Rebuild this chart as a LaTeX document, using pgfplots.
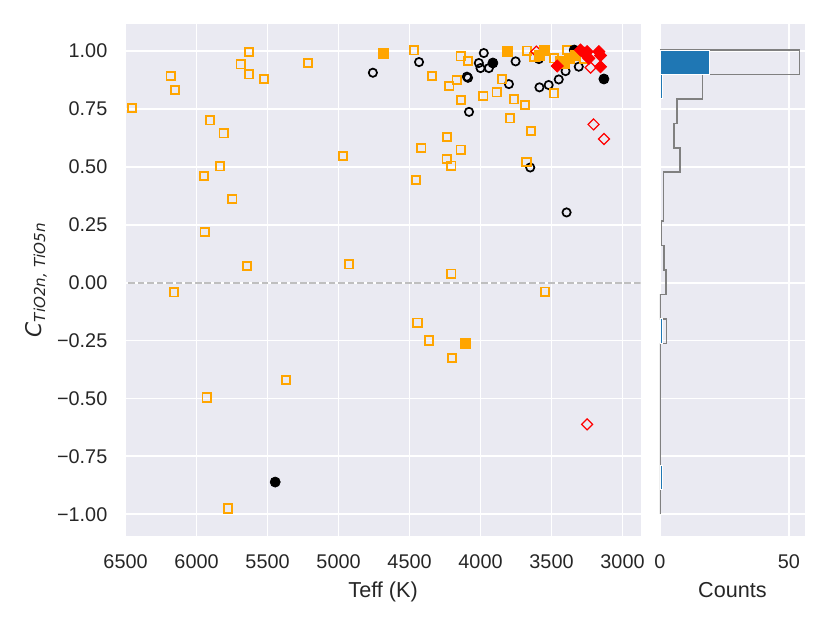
\documentclass[border=0pt]{standalone}
\usepackage{pgfplots}
\pgfplotsset{compat=1.18}
\usepackage{fontspec}
\setmainfont{Liberation Sans}
\newfontfamily\djv{DejaVu Sans}
\definecolor{bgc}{HTML}{EAEAF2}
\definecolor{txt}{HTML}{262626}
\definecolor{mpor}{HTML}{FFA500}
\definecolor{mpblue}{HTML}{1F77B4}
\definecolor{zline}{HTML}{BFBFBF}
\definecolor{hgray}{HTML}{808080}
\begin{document}
\begin{tikzpicture}
\useasboundingbox (0,0) rectangle (460.8pt,345.9pt);
\pgfplotsset{
  sbstyle/.style={
    scale only axis,
    axis background/.style={fill=bgc},
    axis line style={draw=none},
    grid=major,
    grid style={white, line width=1pt},
    major tick length=0pt,
    tick label style={font=\fontsize{11}{13}\selectfont, text=txt},
    label style={font=\fontsize{12}{14}\selectfont, text=txt},
    ymin=-1.094, ymax=1.115,
    ytick={-1,-0.75,-0.5,-0.25,0,0.25,0.5,0.75,1},
    xticklabel style={yshift=-6.9pt},
    yticklabel style={xshift=-6.6pt},
  }
}
\begin{axis}[sbstyle, at={(69.7pt,48.3pt)}, anchor=south west, width=286pt, height=284.1pt,
  x dir=reverse, xmin=2872, xmax=6500,
  xtick={3000,3500,4000,4500,5000,5500,6000,6500},
  xticklabels={3000,3500,4000,4500,5000,5500,6000,6500},
  yticklabels={−1.00,−0.75,−0.50,−0.25,0.00,0.25,0.50,0.75,1.00},
  xlabel={Teff (K)},
  ylabel={{\djv\itshape C}\raisebox{-2.2pt}{\fontsize{8.4}{10}\selectfont\djv\itshape TiO2n, TiO5n}},
  xlabel style={at={(axis description cs:0.5,-0.1193)}, anchor=base},
  ylabel style={at={(axis description cs:-0.164,0.5)}, anchor=base},
]
\addplot[zline, line width=1pt, dash pattern=on 3.7pt off 1.6pt, forget plot] coordinates {(2872,0) (6500,0)};
% black open circles
\addplot[only marks, mark=o, mark size=2.3pt, black, line width=0.95pt] coordinates {
(4758,0.906) (4433,0.952) (4096,0.889) (4088,0.884) (4081,0.737) (3977,0.991) (4012,0.948)
(4000,0.926) (3941,0.926) (3753,0.955) (3800,0.857) (3589,0.965) (3650,0.497) (3585,0.843)
(3520,0.853) (3449,0.877) (3401,0.913) (3308,0.932) (3394,0.303)
};
% orange open squares
\addplot[only marks, mark=square, mark size=2.3pt, mpor, line width=1pt] coordinates {
(6455,0.754) (6182,0.893) (6151,0.831) (5630,0.996) (5689,0.942) (5632,0.899) (5526,0.879)
(5906,0.700) (5809,0.644) (5835,0.502) (5946,0.460) (5748,0.361) (5943,0.218) (5646,0.072)
(6158,-0.042) (5929,-0.496) (5371,-0.421) (5779,-0.975) (5215,0.949) (4470,1.003) (4341,0.892)
(4140,0.977) (4090,0.956) (4168,0.874) (4220,0.848) (4136,0.788) (4237,0.628) (4416,0.581)
(4140,0.574) (4239,0.534) (4206,0.505) (4454,0.444) (4970,0.547) (4928,0.079) (4206,0.039)
(3980,0.805) (3847,0.877) (3886,0.821) (3766,0.791) (3688,0.766) (3671,1.001) (3620,0.973)
(3794,0.709) (3645,0.654) (3676,0.521) (3484,0.817) (3484,0.968) (3389,1.004) (3273,0.965)
(4444,-0.173) (4364,-0.250) (4202,-0.325) (3546,-0.039)
};
% red open diamonds
\addplot[only marks, mark=square, mark options={rotate=45}, mark size=2.16pt, red, line width=0.65pt] coordinates {
(3607,0.997) (3225,0.928) (3204,0.683) (3130,0.620) (3249,-0.612)
};
% black filled circles
\addplot[only marks, mark=*, mark size=2.8pt, black] coordinates {
(5446,-0.861) (3913,0.948) (3131,0.879) (3340,1.004)
};
% orange filled squares
\addplot[only marks, mark=square*, mark size=2.7pt, mpor, line width=0.2pt] coordinates {
(4685,0.990) (3812,0.999) (3554,1.004) (3589,0.983) (3413,0.947) (3378,0.968) (3331,0.983)
(3440,0.955) (4110,-0.260)
};
% red filled diamonds
\addplot[only marks, mark=square*, mark options={rotate=45}, mark size=2.4pt, red, line width=0.4pt] coordinates {
(3460,0.935) (3296,1.004) (3249,0.997) (3237,0.968) (3167,0.997) (3155,0.980) (3155,0.932) (3270,0.990)
};
\end{axis}
\begin{axis}[sbstyle, at={(366.4pt,48.3pt)}, anchor=south west, width=80.5pt, height=284.1pt,
  xmin=0, xmax=56.2, xtick={0,50}, xticklabels={0,50}, yticklabels={},
  xlabel={Counts},
  xlabel style={at={(axis description cs:0.5,-0.1193)}, anchor=base},
]
\addplot[hgray, line width=0.85pt, line join=miter] coordinates {
(0,1.004) (54,1.004) (54,0.8985) (16.5,0.8985) (16.5,0.793) (6.5,0.793) (6.5,0.6875)
(5.4,0.6875) (5.4,0.582) (7.75,0.582) (7.75,0.4765) (1.3,0.4765) (1.3,0.2655) (0.65,0.2655)
(0.65,0.160) (1.55,0.160) (1.55,0.0545) (2.3,0.0545) (2.3,-0.051) (0,-0.051) (0,-0.1565)
(2.6,-0.1565) (2.6,-0.262) (0,-0.262) (0,-1.0005)
};
\addplot[fill=mpblue, draw=white, line width=0.5pt] coordinates {(0,0.8985) (19,0.8985) (19,1.004) (0,1.004)} -- cycle;
\addplot[fill=mpblue, draw=white, line width=0.5pt] coordinates {(0,0.793) (1,0.793) (1,0.8985) (0,0.8985)} -- cycle;
\addplot[fill=mpblue, draw=white, line width=0.5pt] coordinates {(0,-0.262) (1,-0.262) (1,-0.1565) (0,-0.1565)} -- cycle;
\addplot[fill=mpblue, draw=white, line width=0.5pt] coordinates {(0,-0.895) (1,-0.895) (1,-0.7895) (0,-0.7895)} -- cycle;
\end{axis}
\end{tikzpicture}
\end{document}
